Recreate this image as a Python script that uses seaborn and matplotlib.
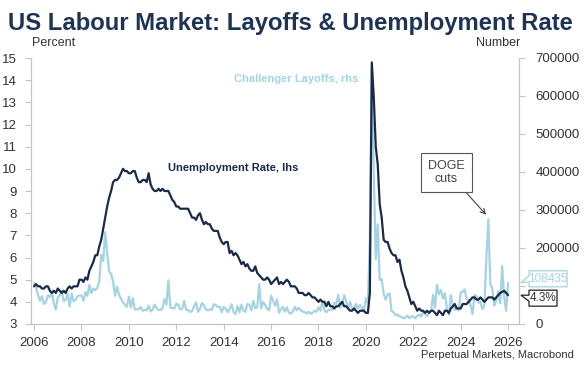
import numpy as np
import pandas as pd
import matplotlib
matplotlib.use("Agg")
import matplotlib.pyplot as plt
import matplotlib.patches as mpatches
import matplotlib.transforms as mtransforms
import seaborn as sns

# Monthly data, Jan 2006 - Jan 2026
UNRATE = [
    4.7, 4.8, 4.7, 4.7, 4.6, 4.6, 4.7, 4.7, 4.5, 4.4, 4.5, 4.4,  # 2006
    4.6, 4.5, 4.4, 4.5, 4.4, 4.6, 4.7, 4.6, 4.7, 4.7, 4.7, 5.0,  # 2007
    5.0, 4.9, 5.1, 5.0, 5.4, 5.6, 5.8, 6.1, 6.1, 6.5, 6.8, 7.3,  # 2008
    7.8, 8.3, 8.7, 9.0, 9.4, 9.5, 9.5, 9.6, 9.8, 10.0, 9.9, 9.9,  # 2009
    9.8, 9.8, 9.9, 9.9, 9.6, 9.4, 9.4, 9.5, 9.5, 9.4, 9.8, 9.3,  # 2010
    9.1, 9.0, 9.0, 9.1, 9.0, 9.1, 9.0, 9.0, 9.0, 8.8, 8.6, 8.5,  # 2011
    8.3, 8.3, 8.2, 8.2, 8.2, 8.2, 8.2, 8.0, 7.8, 7.8, 7.7, 7.9,  # 2012
    8.0, 7.7, 7.5, 7.6, 7.5, 7.5, 7.3, 7.2, 7.2, 7.2, 6.9, 6.7,  # 2013
    6.6, 6.7, 6.7, 6.2, 6.3, 6.1, 6.2, 6.1, 5.9, 5.7, 5.8, 5.6,  # 2014
    5.7, 5.5, 5.4, 5.4, 5.6, 5.3, 5.2, 5.1, 5.0, 5.0, 5.1, 5.0,  # 2015
    4.8, 4.9, 5.0, 5.1, 4.8, 4.9, 4.8, 4.9, 5.0, 4.9, 4.7, 4.7,  # 2016
    4.7, 4.6, 4.4, 4.4, 4.4, 4.3, 4.3, 4.4, 4.3, 4.2, 4.2, 4.1,  # 2017
    4.0, 4.1, 4.0, 4.0, 3.8, 4.0, 3.8, 3.8, 3.7, 3.8, 3.8, 3.9,  # 2018
    4.0, 3.8, 3.8, 3.7, 3.6, 3.6, 3.7, 3.6, 3.5, 3.6, 3.6, 3.6,  # 2019
    3.5, 3.5, 4.4, 14.8, 13.2, 11.0, 10.2, 8.4, 7.8, 6.8, 6.7, 6.7,  # 2020
    6.4, 6.2, 6.1, 6.1, 5.8, 5.9, 5.4, 5.1, 4.7, 4.5, 4.2, 3.9,  # 2021
    4.0, 3.8, 3.6, 3.7, 3.6, 3.6, 3.5, 3.6, 3.5, 3.6, 3.6, 3.5,  # 2022
    3.4, 3.6, 3.5, 3.4, 3.6, 3.6, 3.5, 3.7, 3.8, 3.9, 3.7, 3.7,  # 2023
    3.7, 3.9, 3.9, 3.9, 4.0, 4.1, 4.2, 4.2, 4.1, 4.1, 4.2, 4.1,  # 2024
    4.0, 4.1, 4.2, 4.2, 4.2, 4.1, 4.2, 4.3, 4.4, np.nan, 4.5, 4.4,  # 2025
    4.3,  # 2026
]

LAYOFFS = [
    108000, 95000, 77000, 61000, 73000, 53000, 58000, 75000, 71000, 85000, 54000, 38000,  # 2006
    70000, 76000, 87000, 60000, 64000, 79000, 46000, 80000, 60000, 63000, 73000, 75000,  # 2007
    75000, 61000, 84000, 74000, 103000, 81000, 93000, 89000, 95000, 112000, 182000, 166000,  # 2008
    241749, 186000, 138000, 132000, 111000, 74000, 98000, 77000, 67000, 57000, 51000, 45000,  # 2009
    72000, 43000, 68000, 38000, 39000, 39000, 45000, 35000, 37000, 36000, 48000, 33000,  # 2010
    38000, 51000, 42000, 37000, 37000, 41000, 66000, 51000, 115000, 43000, 42000, 41000,  # 2011
    53000, 51000, 38000, 40000, 61000, 37000, 37000, 32000, 34000, 47000, 57000, 32000,  # 2012
    40000, 55000, 49000, 38000, 36000, 39000, 37000, 52000, 50000, 45000, 45000, 31000,  # 2013
    45000, 41000, 31000, 40000, 52000, 31000, 26000, 47000, 31000, 51000, 35000, 32000,  # 2014
    53000, 51000, 36000, 61000, 41000, 44000, 105000, 41000, 58000, 50000, 40000, 36000,  # 2015
    75000, 61000, 48000, 65000, 30000, 38000, 45000, 32000, 44000, 30000, 27000, 33000,  # 2016
    45000, 36000, 43000, 36000, 33000, 31000, 28000, 32000, 27000, 29000, 35000, 32000,  # 2017
    44000, 35000, 60000, 36000, 31000, 37000, 38000, 38000, 55000, 53000, 77000, 43000,  # 2018
    52000, 76000, 60000, 40000, 58000, 41000, 39000, 53000, 41000, 50000, 44000, 33000,  # 2019
    68000, 57000, 222000, 671129, 398000, 171000, 262000, 116000, 118000, 80000, 64000, 78000,  # 2020
    80000, 34000, 31000, 23000, 25000, 20000, 19000, 15000, 17000, 22000, 15000, 20000,  # 2021
    20000, 15000, 21000, 25000, 20000, 33000, 26000, 21000, 30000, 34000, 77000, 43000,  # 2022
    103000, 78000, 90000, 67000, 81000, 41000, 24000, 76000, 48000, 37000, 46000, 35000,  # 2023
    83000, 85000, 91000, 65000, 64000, 49000, 26000, 76000, 73000, 56000, 58000, 39000,  # 2024
    50000, 173000, 276000, 105000, 94000, 48000, 62000, 86000, 54000, 153000, 71000, 35000,  # 2025
    108435,  # 2026
]

X_TICKS = list(range(2006, 2027, 2))
LHS_TICKS = list(range(3, 16))
RHS_TICKS = list(range(0, 700001, 100000))

NAVY = "#1b2a47"
LIGHT = "#a6d3e1"
GREY_TXT = "#333333"
SPINE = "#c4c4c4"
W, H = 584, 377

dates = pd.date_range("2006-01-01", periods=len(UNRATE), freq="MS")
df = pd.DataFrame({
    "year": dates.year + (dates.month - 1) / 12.0,
    "unrate": UNRATE,
    "layoffs": LAYOFFS,
})

sns.set_theme(style="white")
plt.rcParams["font.family"] = ["Liberation Sans", "DejaVu Sans"]

fig = plt.figure(figsize=(W / 100, H / 100), dpi=100)
ax = fig.add_axes([31 / W, 1 - 324 / H, 488 / W, 266 / H])
ax2 = ax.twinx()

sns.lineplot(data=df, x="year", y="layoffs", ax=ax2, color=LIGHT, linewidth=1.6)
sns.lineplot(data=df.dropna(), x="year", y="unrate", ax=ax, color=NAVY, linewidth=1.6)

# navy line on top of the light one
ax.set_zorder(ax2.get_zorder() + 1)
ax.patch.set_visible(False)

ax.set_xlim(2005.87, 2026.46)
ax.set_ylim(3, 15)
ax2.set_ylim(0, 700000)
ax.set_xticks(X_TICKS)
ax.set_yticks(LHS_TICKS)
ax2.set_yticks(RHS_TICKS)
# the 100000 label sits under the end-value tags in the original
ax2.set_yticklabels(["" if v == 100000 else str(v) for v in RHS_TICKS])
ax.set_xlabel("")
ax.set_ylabel("")
ax2.set_ylabel("")

for a in (ax, ax2):
    for s in a.spines.values():
        s.set_visible(False)
    a.tick_params(axis="both", colors=SPINE, labelcolor=GREY_TXT, labelsize=9.5,
                  length=4, width=0.8, direction="out")
ax.spines["left"].set_visible(True)
ax.spines["bottom"].set_visible(True)
ax2.spines["right"].set_visible(True)
for s in (ax.spines["left"], ax.spines["bottom"], ax2.spines["right"]):
    s.set_color(SPINE)
    s.set_linewidth(0.9)
ax.tick_params(axis="y", left=True, pad=6)
ax.tick_params(axis="x", bottom=True, pad=5)
ax2.tick_params(axis="y", right=True, pad=8)

# titles and axis captions
fig.text(8 / W, 1 - 30 / H, "US Labour Market: Layoffs & Unemployment Rate", fontsize=17.2,
         fontweight="bold", color="#1f3352", va="baseline", ha="left")
fig.text(32 / W, 1 - 43 / H, "Percent", fontsize=9, color=GREY_TXT, ha="left", va="center")
fig.text(520 / W, 1 - 43 / H, "Number", fontsize=9, color=GREY_TXT, ha="right", va="center")
fig.text(574 / W, 1 - 355 / H, "Perpetual Markets, Macrobond", fontsize=8,
         color=GREY_TXT, ha="right", va="center")

# series labels
ax2.text(2017.05, 644000, "Challenger Layoffs, rhs", fontsize=8, fontweight="bold",
         color=LIGHT, ha="center", va="center")
ax.text(2011.65, 10.06, "Unemployment Rate, lhs", fontsize=8, fontweight="bold",
        color=NAVY, ha="left", va="center")

# DOGE callout
ax2.annotate("DOGE\ncuts", xy=(2025.15, 282000), xytext=(2023.4, 399000),
             fontsize=9, color="#444444", ha="center", va="center", linespacing=1.1,
             bbox=dict(boxstyle="square,pad=0.55", fc="white", ec="#555555", lw=0.8),
             arrowprops=dict(arrowstyle="->", color="#444444", lw=0.8,
                             shrinkA=0, shrinkB=2, relpos=(0.85, 0.0)))


# end value tags: boxes with a small pointer towards the axis
def end_tag(axis, value, text, shift, box_w, edge, color):
    px = axis.transData.transform((0, value))[1]  # display y of the value
    tip_x = 521
    x0, x1 = 529, 529 + box_w
    yc = px + shift
    h = 8
    pts = [(x0, yc + h), (x1, yc + h), (x1, yc - h), (x0, yc - h),
           (x0, yc - 3), (tip_x, px), (x0, yc + 3)]
    poly = mpatches.Polygon(pts, closed=True, fc="white", ec=edge, lw=0.9,
                            transform=mtransforms.IdentityTransform(), zorder=20)
    fig.patches.append(poly)
    fig.text((x0 + x1) / 2 / W, yc / H, text, fontsize=8.5, color=color,
             ha="center", va="center", zorder=21)


end_tag(ax2, LAYOFFS[-1], f"{LAYOFFS[-1]}", 4, 38, LIGHT, LIGHT)
end_tag(ax, UNRATE[-1], f"{UNRATE[-1]}%", -3, 28, "#222222", GREY_TXT)

fig.savefig("out.png", dpi=100, facecolor="white")
